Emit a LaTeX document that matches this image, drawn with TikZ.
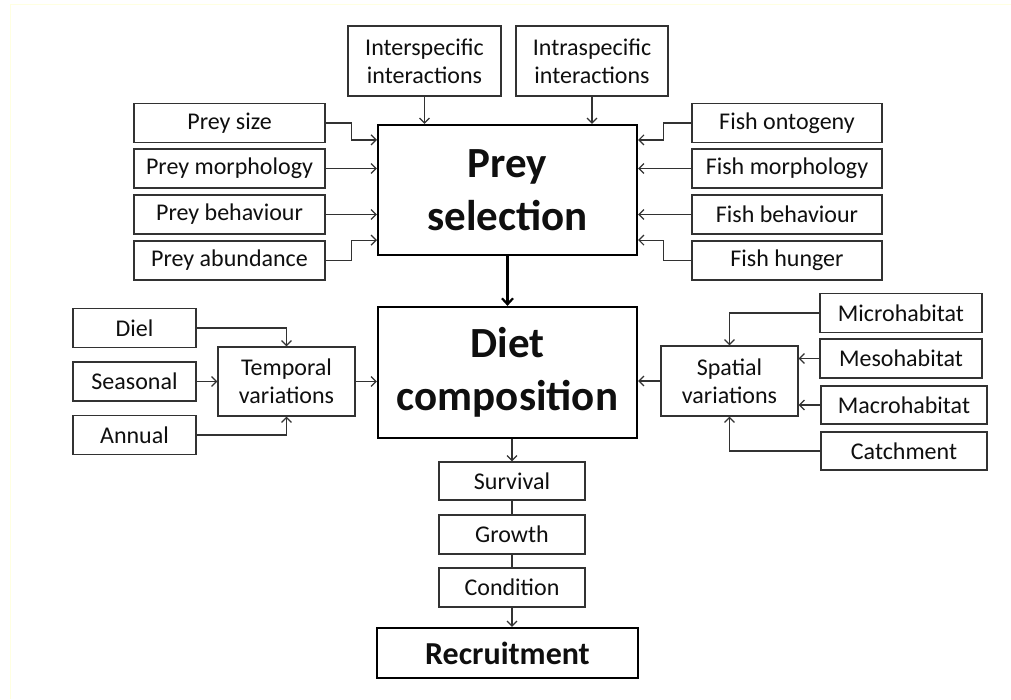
\documentclass[tikz,border=0pt]{standalone}
\usepackage{fontspec}
\setmainfont{Carlito}
\usetikzlibrary{arrows.meta,calc}
\definecolor{txt}{RGB}{15,15,15}
\definecolor{edge}{RGB}{50,50,50}
\definecolor{faint}{RGB}{255,255,225}
\begin{document}
\begin{tikzpicture}[x=1pt,y=-1pt,
  sbox/.style={draw=edge,line width=1.2pt,fill=white,inner sep=0pt,align=center,
    text=txt,font=\fontsize{24}{28}\selectfont},
  bbox/.style={draw=black,line width=2.2pt,fill=white,inner sep=0pt,align=center,
    text=txt,font=\fontsize{43}{53}\selectfont\bfseries},
  conn/.style={draw=edge,line width=1.2pt},
  arr/.style={conn,-{Straight Barb[length=5pt,width=10pt]}},
  thickarr/.style={draw=black,line width=2.2pt,-{Straight Barb[length=6pt,width=11pt]}}]
\useasboundingbox (0,0) rectangle (1011,699);
\fill[white] (0,0) rectangle (1011,699);
\draw[faint,line width=0.8pt] (10,699) -- (10,4) -- (1011,4);

% main boxes
\node[bbox,minimum width=259,minimum height=130] (sel) at (507.5,190) {Prey\\selection};
\node[bbox,minimum width=259,minimum height=131] (diet) at (507.5,372.5) {Diet\\composition};
\node[bbox,minimum width=261,minimum height=50,font=\fontsize{32}{38}\selectfont\bfseries] (rec) at (507.5,653) {Recruitment};

% top
\node[sbox,minimum width=153,minimum height=70] (inter) at (424.5,61) {Interspecific\\interactions};
\node[sbox,minimum width=152,minimum height=70] (intra) at (592,61) {Intraspecific\\interactions};

% prey
\node[sbox,minimum width=191,minimum height=39] (psize) at (229.5,123) {Prey size};
\node[sbox,minimum width=191,minimum height=39] (pmorph) at (229.5,168.5) {Prey morphology};
\node[sbox,minimum width=191,minimum height=39] (pbeh) at (229.5,214.5) {Prey behaviour};
\node[sbox,minimum width=191,minimum height=39] (pabun) at (229.5,260.5) {Prey abundance};

% fish
\node[sbox,minimum width=190,minimum height=39] (fonto) at (787,123) {Fish ontogeny};
\node[sbox,minimum width=190,minimum height=39] (fmorph) at (787,168.5) {Fish morphology};
\node[sbox,minimum width=190,minimum height=39] (fbeh) at (787,214.5) {Fish behaviour};
\node[sbox,minimum width=190,minimum height=39] (fhung) at (787,260.5) {Fish hunger};

% temporal
\node[sbox,minimum width=123,minimum height=39] (diel) at (134.5,328) {Diel};
\node[sbox,minimum width=123,minimum height=39] (seas) at (134.5,381.5) {Seasonal};
\node[sbox,minimum width=123,minimum height=39] (annual) at (134.5,435) {Annual};
\node[sbox,minimum width=137,minimum height=69] (temp) at (286.5,381.5) {Temporal\\variations};

% spatial
\node[sbox,minimum width=162,minimum height=39] (micro) at (901,313) {Microhabitat};
\node[sbox,minimum width=162,minimum height=39] (meso) at (901,358.5) {Mesohabitat};
\node[sbox,minimum width=166,minimum height=38] (macro) at (904,405) {Macrohabitat};
\node[sbox,minimum width=166,minimum height=38] (catch) at (904,451) {Catchment};
\node[sbox,minimum width=137,minimum height=70] (spat) at (729.5,381) {Spatial\\variations};

% outcomes
\node[sbox,minimum width=146,minimum height=38] (surv) at (512,481) {Survival};
\node[sbox,minimum width=146,minimum height=39] (grow) at (512,534.5) {Growth};
\node[sbox,minimum width=146,minimum height=39] (cond) at (512,587.5) {Condition};

% connectors to prey selection
\draw[arr] (inter.south) -- (inter.south |- sel.north);
\draw[arr] (intra.south) -- (intra.south |- sel.north);
\coordinate (selTL) at ($(sel.north west)+(0,16)$);
\coordinate (selBL) at ($(sel.south west)+(0,-16)$);
\coordinate (selTR) at ($(sel.north east)+(0,16)$);
\coordinate (selBR) at ($(sel.south east)+(0,-16)$);
\draw[arr] (psize.east) -- ++(26,0) |- (selTL);
\draw[arr] (pmorph.east) -- (pmorph.east -| sel.west);
\draw[arr] (pbeh.east) -- (pbeh.east -| sel.west);
\draw[arr] (pabun.east) -- ++(26,0) |- (selBL);
\draw[arr] (fonto.west) -- ++(-28,0) |- (selTR);
\draw[arr] (fmorph.west) -- (fmorph.west -| sel.east);
\draw[arr] (fbeh.west) -- (fbeh.west -| sel.east);
\draw[arr] (fhung.west) -- ++(-28,0) |- (selBR);

% selection to diet
\draw[thickarr] (sel.south) -- (diet.north);

% temporal
\draw[arr] (diel.east) -| (temp.north);
\draw[arr] (seas.east) -- (temp.west);
\draw[arr] (annual.east) -| (temp.south);
\draw[arr] (temp.east) -- (temp.east -| diet.west);

% spatial
\draw[arr] (micro.west) -| (spat.north);
\draw[arr] (meso.west) -- (meso.west -| spat.east);
\draw[arr] (macro.west) -- (macro.west -| spat.east);
\draw[arr] (catch.west) -| (spat.south);
\draw[arr] (spat.west) -- (spat.west -| diet.east);

% outcomes
\draw[arr] (surv.north |- diet.south) -- (surv.north);
\draw[conn] (surv.south) -- (grow.north);
\draw[conn] (grow.south) -- (cond.north);
\draw[arr] (cond.south) -- (cond.south |- rec.north);
\end{tikzpicture}
\end{document}
